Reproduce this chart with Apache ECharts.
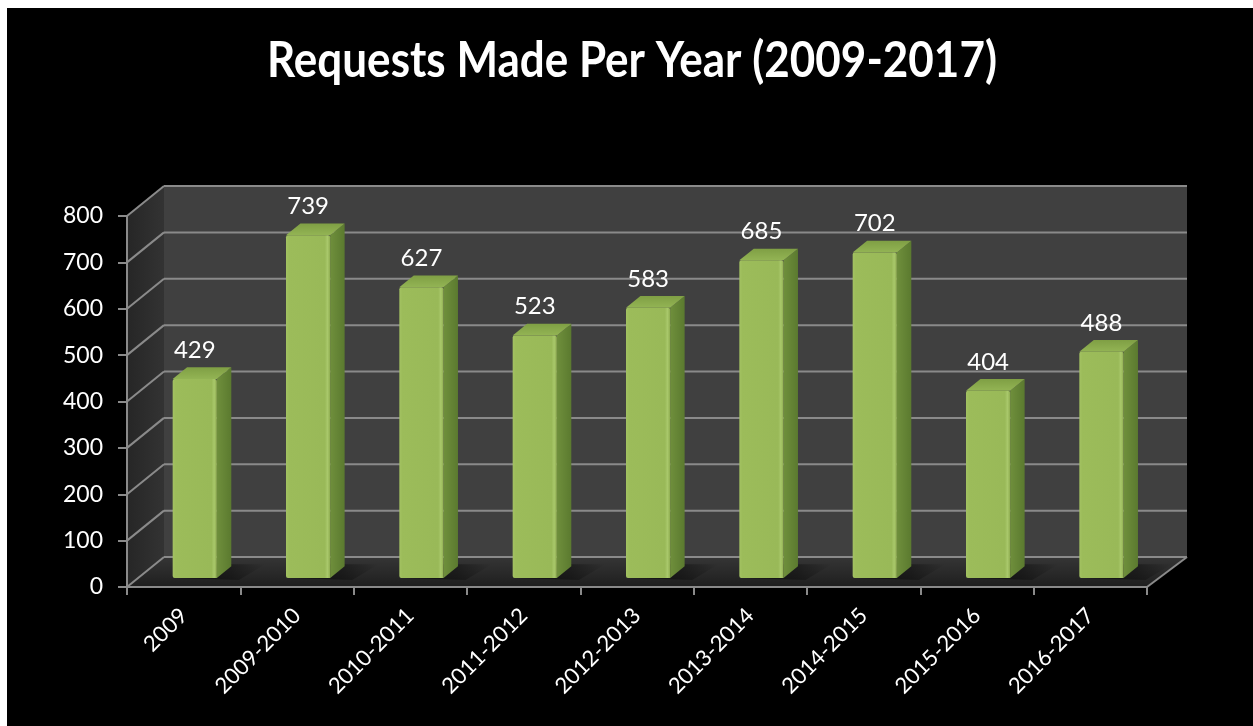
<!DOCTYPE html>
<html>
<head>
<meta charset="utf-8">
<title>Requests Made Per Year (2009-2017)</title>
<script src="https://cdn.jsdelivr.net/npm/echarts@6/dist/echarts.min.js"></script>
<style>
  html, body { margin: 0; padding: 0; background: #ffffff; }
  #chart { position: absolute; left: 7px; top: 8px; width: 1246px; height: 718px; }
</style>
</head>
<body>
<div id="chart"></div>
<script>
const chartTitle = 'Requests Made Per Year (2009-2017)';
const categories = ['2009', '2009-2010', '2010-2011', '2011-2012', '2012-2013',
                    '2013-2014', '2014-2015', '2015-2016', '2016-2017'];
const requests = [429, 739, 627, 523, 583, 685, 702, 404, 488];
const yTicks = [0, 100, 200, 300, 400, 500, 600, 700, 800];

// Oblique depth of the plot box (pixels) and where the columns sit inside it.
const DEPTH_X = 37;
const DEPTH_Y = -30;
const COL_FRONT = 0.30;   // fraction of depth where the column's front face lies
const COL_BACK = 0.69;    // fraction of depth where its back face lies
const COL_WIDTH = 0.39;   // column width as a fraction of the category band

const GRID_COLOR = '#8a8a8a';
const FONT = 'Lato, "Open Sans", sans-serif';
const TITLE_FONT = 'bold 50px Lato';
const TITLE_WIDTH = 730;

const chart = echarts.init(document.getElementById('chart'));

// The title is set in a condensed bold face: squeeze Lato Bold horizontally.
const measureCtx = document.createElement('canvas').getContext('2d');
measureCtx.font = TITLE_FONT;
const titleScaleX = TITLE_WIDTH / measureCtx.measureText(chartTitle).width;

// Back wall, side wall, floor and their grid lines.
function renderWalls(params, api) {
  const cs = params.coordSys;
  const L = cs.x, R = cs.x + cs.width, T = cs.y, B = cs.y + cs.height;
  const children = [];
  children.push({
    type: 'polygon',
    shape: { points: [[L, T], [L + DEPTH_X, T + DEPTH_Y], [L + DEPTH_X, B + DEPTH_Y], [L, B]] },
    style: {
      fill: new echarts.graphic.LinearGradient(0, 0, 1, 0, [
        { offset: 0, color: '#262626' }, { offset: 1, color: '#333333' }
      ])
    }
  });
  children.push({
    type: 'rect',
    shape: { x: L + DEPTH_X, y: T + DEPTH_Y, width: R - L + 3, height: B - T },
    style: { fill: '#404040' }
  });
  children.push({
    type: 'polygon',
    shape: { points: [[L, B], [R, B], [R + DEPTH_X + 3, B + DEPTH_Y], [L + DEPTH_X, B + DEPTH_Y]] },
    style: {
      fill: new echarts.graphic.LinearGradient(0, 0, 0, 1, [
        { offset: 0, color: '#353535' }, { offset: 0.5, color: '#2a2a2a' }, { offset: 1, color: '#1e1e1e' }
      ])
    }
  });
  yTicks.forEach(function (t) {
    const y = api.coord([0, t])[1];
    children.push({
      type: 'line',
      shape: { x1: L + DEPTH_X, y1: y + DEPTH_Y, x2: R + DEPTH_X + 3, y2: y + DEPTH_Y },
      style: { stroke: GRID_COLOR, lineWidth: 2 }
    });
    children.push({
      type: 'line',
      shape: { x1: L, y1: y, x2: L + DEPTH_X, y2: y + DEPTH_Y },
      style: { stroke: GRID_COLOR, lineWidth: 2 }
    });
  });
  children.push({
    type: 'line',
    shape: { x1: R, y1: B, x2: R + DEPTH_X + 3, y2: B + DEPTH_Y },
    style: { stroke: GRID_COLOR, lineWidth: 2 }
  });
  return { type: 'group', children: children };
}

// One shaded 3D column with its floor shadow and value label.
function renderColumn(params, api) {
  const i = api.value(0);
  const v = api.value(1);
  const top = api.coord([i, v]);
  const base = api.coord([i, 0]);
  const band = api.size([1, 0])[0];
  const w = band * COL_WIDTH;
  const fx = DEPTH_X * COL_FRONT, fy = DEPTH_Y * COL_FRONT;
  const dx = DEPTH_X * (COL_BACK - COL_FRONT), dy = DEPTH_Y * (COL_BACK - COL_FRONT);
  const x0 = top[0] - w / 2 + fx;
  const x1 = x0 + w;
  const yTop = top[1] + fy;
  const yBase = base[1] + fy;

  return {
    type: 'group',
    children: [
      {
        type: 'polygon',
        shape: { points: [[x0 + 4, yBase], [x0 + dx + 6, yBase + dy - 2], [x1 + dx + 34, yBase + dy - 2], [x1 + 22, yBase + 2]] },
        style: {
          fill: new echarts.graphic.LinearGradient(0, 0, 1, 0, [
            { offset: 0, color: 'rgba(0,0,0,0.55)' },
            { offset: 0.6, color: 'rgba(0,0,0,0.35)' },
            { offset: 1, color: 'rgba(0,0,0,0)' }
          ])
        }
      },
      {
        type: 'polygon',
        shape: { points: [[x1, yTop], [x1 + dx, yTop + dy], [x1 + dx, yBase + dy], [x1, yBase]] },
        style: {
          fill: new echarts.graphic.LinearGradient(0, 0, 1, 0, [
            { offset: 0, color: '#6f8f3c' }, { offset: 1, color: '#5b7a2f' }
          ])
        }
      },
      {
        type: 'polygon',
        shape: { points: [[x0, yTop], [x0 + dx, yTop + dy], [x1 + dx, yTop + dy], [x1, yTop]] },
        style: {
          fill: new echarts.graphic.LinearGradient(0, 1, 0, 0, [
            { offset: 0, color: '#93b454' }, { offset: 1, color: '#7f9f44' }
          ])
        }
      },
      {
        type: 'rect',
        shape: { x: x0, y: yTop, width: w, height: yBase - yTop, r: [2, 2, 0, 2] },
        style: {
          fill: new echarts.graphic.LinearGradient(0, 0, 1, 0, [
            { offset: 0, color: '#a3c262' },
            { offset: 0.07, color: '#9cbc5a' },
            { offset: 0.88, color: '#99b958' },
            { offset: 0.94, color: '#a9c86b' },
            { offset: 1, color: '#8eac4f' }
          ])
        }
      },
      {
        type: 'text',
        style: {
          text: String(v),
          x: x0 + w / 2,
          y: yTop + dy - 5,
          align: 'center',
          verticalAlign: 'bottom',
          fill: '#ffffff',
          fontSize: 24,
          fontFamily: FONT
        }
      }
    ]
  };
}

chart.setOption({
  backgroundColor: '#000000',
  animation: false,
  graphic: [
    {
      type: 'text',
      x: 625,
      y: 53,
      scaleX: titleScaleX,
      style: {
        text: chartTitle,
        x: 0,
        y: 0,
        align: 'center',
        verticalAlign: 'middle',
        fill: '#ffffff',
        font: TITLE_FONT
      }
    }
  ],
  grid: { left: 120, right: 106, top: 208, bottom: 139 },
  xAxis: {
    type: 'category',
    data: categories,
    boundaryGap: true,
    axisLine: { lineStyle: { color: GRID_COLOR, width: 2 } },
    axisTick: { show: true, length: 8, alignWithLabel: false, lineStyle: { color: GRID_COLOR, width: 2 } },
    axisLabel: { rotate: 45, margin: 25, color: '#ffffff', fontSize: 22, fontFamily: FONT, interval: 0 },
    splitLine: { show: false }
  },
  yAxis: {
    type: 'value',
    min: 0,
    max: 800,
    interval: 100,
    axisLine: { show: true, lineStyle: { color: GRID_COLOR, width: 2 } },
    axisTick: { show: true, length: 9, lineStyle: { color: GRID_COLOR, width: 2 } },
    axisLabel: { margin: 24, color: '#ffffff', fontSize: 23, fontFamily: FONT },
    splitLine: { show: false }
  },
  series: [
    {
      type: 'custom',
      name: 'walls',
      z: -1,
      silent: true,
      renderItem: renderWalls,
      data: [[0, 0]]
    },
    {
      type: 'custom',
      name: 'Requests',
      renderItem: renderColumn,
      encode: { x: 0, y: 1 },
      data: requests.map(function (v, i) { return [i, v]; })
    }
  ]
});
</script>
</body>
</html>
